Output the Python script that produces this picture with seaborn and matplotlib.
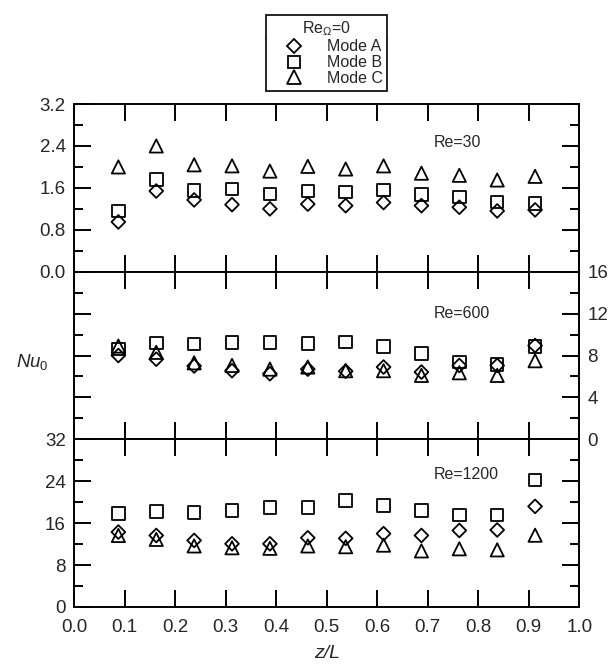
import matplotlib.pyplot as plt
import seaborn as sns
import numpy as np
import pandas as pd
from matplotlib.lines import Line2D
from matplotlib.ticker import MultipleLocator

# 数据
z_L = [0.0875, 0.1625, 0.2375, 0.3125, 0.3875, 0.4625,
       0.5375, 0.6125, 0.6875, 0.7625, 0.8375, 0.9125]

re30_mode_a = [0.95, 1.54, 1.37, 1.28, 1.20, 1.29, 1.26, 1.32, 1.26, 1.23, 1.16, 1.18]
re30_mode_b = [1.16, 1.76, 1.55, 1.58, 1.48, 1.54, 1.52, 1.56, 1.47, 1.43, 1.33, 1.30]
re30_mode_c = [2.00, 2.40, 2.04, 2.02, 1.92, 2.01, 1.96, 2.02, 1.88, 1.84, 1.75, 1.82]

re600_mode_a = [8.0, 7.65, 7.0, 6.55, 6.26, 6.7, 6.5, 6.9, 6.42, 7.05, 7.05, 8.95]
re600_mode_b = [8.63, 9.2, 9.1, 9.26, 9.26, 9.14, 9.3, 8.88, 8.19, 7.4, 7.16, 8.88]
re600_mode_c = [8.9, 8.3, 7.3, 7.05, 6.7, 6.9, 6.55, 6.55, 6.1, 6.35, 6.1, 7.5]

re1200_mode_a = [14.3, 13.65, 12.7, 12.06, 12.06, 13.2, 13.1, 14.0, 13.65, 14.6, 14.7, 19.2]
re1200_mode_b = [17.8, 18.25, 18.06, 18.4, 19.0, 19.0, 20.3, 19.33, 18.4, 17.55, 17.55, 24.2]
re1200_mode_c = [13.65, 12.9, 11.65, 11.3, 11.2, 11.65, 11.5, 11.8, 10.7, 11.1, 10.9, 13.7]

modes = ['Mode A', 'Mode B', 'Mode C']
panel_labels = ['Re=30', 'Re=600', 'Re=1200']
panel_data = [
    [re30_mode_a, re30_mode_b, re30_mode_c],
    [re600_mode_a, re600_mode_b, re600_mode_c],
    [re1200_mode_a, re1200_mode_b, re1200_mode_c],
]

# 样式
sns.set_style('ticks')
plt.rcParams['font.family'] = ['Liberation Sans', 'DejaVu Sans']
plt.rcParams['mathtext.fontset'] = 'custom'
plt.rcParams['mathtext.rm'] = 'Liberation Sans'
plt.rcParams['mathtext.it'] = 'Liberation Sans:italic'

markers = {'Mode A': 'D', 'Mode B': 's', 'Mode C': '^'}
msize = {'Mode A': 7.0, 'Mode B': 9.0, 'Mode C': 9.5}
ylims = [(0, 3.2), (0, 16), (0, 32)]
majors = [0.8, 4, 8]
minors = [0.4, 2, 4]
text_y = [0.768, 0.748, 0.7875]
tick_fs = 13.5
lw = 1.4

fig, axes = plt.subplots(3, 1, figsize=(6.13, 6.67), sharex=True)
fig.subplots_adjust(left=0.121, right=0.945, top=0.844, bottom=0.09, hspace=0)

for i, ax in enumerate(axes):
    for mode, vals in zip(modes, panel_data[i]):
        sns.scatterplot(x=z_L, y=vals, ax=ax, marker=markers[mode],
                        s=msize[mode] ** 2, facecolors='none',
                        edgecolor='black', color='black', linewidth=1.3,
                        legend=False, zorder=3, clip_on=False)
    ax.set_xlim(0, 1.0)
    ax.set_ylim(*ylims[i])
    ax.xaxis.set_major_locator(MultipleLocator(0.1))
    ax.yaxis.set_major_locator(MultipleLocator(majors[i]))
    ax.yaxis.set_minor_locator(MultipleLocator(minors[i]))
    for sp in ax.spines.values():
        sp.set_visible(True)
        sp.set_linewidth(lw)
        sp.set_color('black')
    ax.tick_params(axis='both', which='both', direction='in', top=True,
                   right=True, width=lw, color='black', labelsize=tick_fs)
    ax.tick_params(axis='both', which='major', length=12)
    ax.tick_params(axis='y', which='minor', length=6.5)
    ax.tick_params(axis='y', pad=6)
    ax.tick_params(axis='x', pad=9)
    ax.text(0.711, text_y[i], panel_labels[i], transform=ax.transAxes,
            ha='left', va='center', fontsize=11.5)

axes[0].yaxis.set_major_formatter(plt.FormatStrFormatter('%.1f'))
axes[1].tick_params(axis='y', labelleft=False, labelright=True)
axes[2].xaxis.set_major_formatter(plt.FormatStrFormatter('%.1f'))

axes[1].set_ylabel(r'$Nu_\mathrm{0}$', fontsize=13.5, rotation=0,
                   ha='center', va='center')
axes[1].yaxis.set_label_coords(-0.082, 0.46)
axes[2].set_xlabel('z/L', fontsize=14, style='italic', labelpad=6)

# 图例
handles = [Line2D([], [], marker=markers[m], ms=msize[m], mfc='none',
                  mec='black', mew=1.3, ls='') for m in modes]
leg = fig.legend(handles, modes, loc='upper center',
                 bbox_to_anchor=(0.533, 0.9775), title=r'Re$_\Omega$=0',
                 fontsize=11.5, title_fontsize=11.5, frameon=True,
                 fancybox=False, framealpha=1, edgecolor='black',
                 borderpad=0.3, handlelength=2.9, handletextpad=0.6,
                 labelspacing=0.05, borderaxespad=0)
leg.get_frame().set_linewidth(1.2)

fig.canvas.draw()
renderer = fig.canvas.get_renderer()
tb = leg.get_title().get_window_extent(renderer)
fb = leg.get_frame().get_window_extent(renderer)
inv = fig.transFigure.inverted()
(x0, y0), (x1, _) = inv.transform([(fb.x0, tb.y0 - 1), (fb.x1, tb.y0 - 1)])
fig.add_artist(Line2D([x0, x1], [y0, y0], color='black', lw=1.2,
                      transform=fig.transFigure))

plt.savefig('out.png', dpi=100)
